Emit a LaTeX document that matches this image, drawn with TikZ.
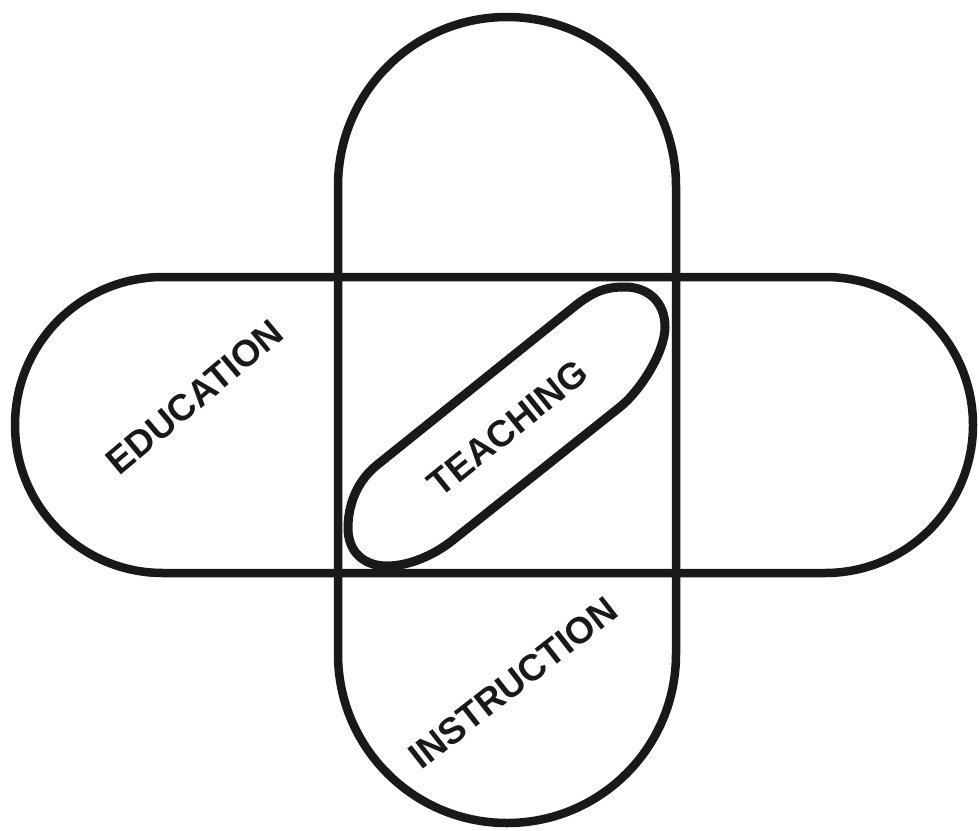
\documentclass[tikz,border=0pt]{standalone}
\usepackage{fontspec}
\setmainfont{Liberation Sans}
\usetikzlibrary{shapes.misc}
\begin{document}
\begin{tikzpicture}[x=1pt,y=-1pt,
  ring/.style={draw=black!90, line width=8.5pt, rounded rectangle, inner sep=0pt, outer sep=0pt},
  inner ring/.style={draw=black!90, line width=9pt, line join=round},
  lbl/.style={font=\bfseries\fontsize{37}{40}\selectfont, inner sep=0pt, text=black!90}]
\fill[white] (0,0) rectangle (979,830);
\useasboundingbox (0,0) rectangle (979,830);
\node[ring, minimum width=958pt, minimum height=296pt] (education) at (494,425) {};
\node[ring, minimum width=806pt, minimum height=338pt, rotate=90] (instruction) at (507,420) {};
% TEACHING: a squashed capsule lying in the overlap square
\coordinate (p1) at (348,528);
\coordinate (p2) at (387,566);
\coordinate (q1) at (453,540);
\coordinate (q2) at (620,407);
\coordinate (p3) at (665,327);
\coordinate (p4) at (625,287);
\coordinate (q3) at (575,306);
\coordinate (q4) at (377,465);
\draw[inner ring] (p1) .. controls (348,552) and (364,566) .. (p2)
  .. controls (408,566) and (433,556) .. (q1)
  -- (q2)
  .. controls (640,391) and (665,352) .. (p3)
  .. controls (665,302) and (648,287) .. (p4)
  .. controls (606,287) and (594,291) .. (q3)
  -- (q4)
  .. controls (357,481) and (348,505) .. (p1) -- cycle;
\node[lbl, rotate=40] (edulabel) at (195,397) {EDUCATION};
\node[lbl, rotate=39] (teachlabel) at (508,428) {TEACHING};
\node[lbl, rotate=38] (instlabel) at (513,683) {INSTRUCTION};
\end{tikzpicture}
\end{document}
